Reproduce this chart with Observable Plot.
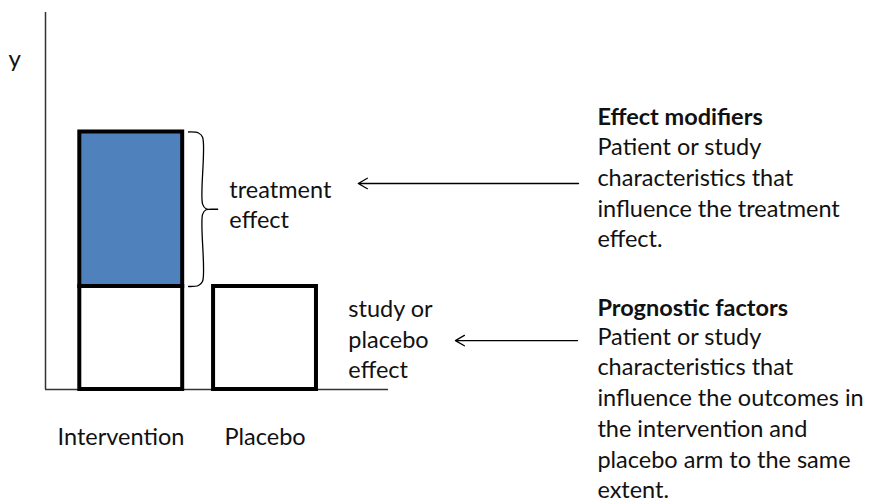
<!DOCTYPE html>
<html>
<head>
<meta charset="utf-8">
<script src="https://cdn.jsdelivr.net/npm/d3@7"></script>
<script src="https://cdn.jsdelivr.net/npm/@observablehq/plot@0.6"></script>
<style>
  html, body { margin: 0; padding: 0; background: #fff; }
  #chart svg { display: block; }
</style>
</head>
<body>
<div id="chart"></div>
<script>
// ---- data (conceptual units) ----
const categories = ["Intervention", "Placebo"];
const placeboEffect = [2, 2];        // white (study / placebo) part
const treatmentEffect = [3, 0];      // blue part on top
const yAxisLabel = "y";
const bracketLabel = "treatment\neffect";
const studyLabel = "study or\nplacebo\neffect";
const titles = ["Effect modifiers", "Prognostic factors"];
const bodies = [
  "Patient or study\ncharacteristics that\ninfluence the treatment\neffect.",
  "Patient or study\ncharacteristics that\ninfluence the outcomes in\nthe intervention and\nplacebo arm to the same\nextent."
];

// ---- layout helpers (diagram units) ----
const barStart = 1, barWidth = 3, barStep = 3.9;
const bars = categories.map((c, i) => ({
  cat: c,
  x1: barStart + i * barStep,
  x2: barStart + i * barStep + barWidth,
  base: placeboEffect[i],
  top: placeboEffect[i] + treatmentEffect[i]
}));
const whiteParts = bars.map(b => ({x1: b.x1, x2: b.x2, y1: 0, y2: b.base}));
const blueParts = bars.filter(b => b.top > b.base).map(b => ({x1: b.x1, x2: b.x2, y1: b.base, y2: b.top}));

const yTop = 7.32, xEnd = 10;
const ib = bars[0];
const bx0 = ib.x2 + 0.17, bx1 = ib.x2 + 0.58, bxt = ib.x2 + 1.02;
const mid = (ib.base + ib.top) / 2;
const brace = [
  [bx0, ib.top], [bx1 - 0.12, ib.top - 0.02], [bx1, ib.top - 0.1],
  [bx1, mid + 0.1], [bx1 + 0.1, mid + 0.01], [bxt, mid],
  [bx1 + 0.1, mid - 0.01], [bx1, mid - 0.1],
  [bx1, ib.base + 0.1], [bx1 - 0.12, ib.base + 0.02], [bx0, ib.base]
].map(([x, y]) => ({x, y}));

const font = "Lato, 'Open Sans', sans-serif";
const ink = "#111";
const fs = 23.5;

const chart = Plot.plot({
  width: 872,
  height: 500,
  marginTop: 0, marginBottom: 0, marginLeft: 0, marginRight: 0,
  x: {type: "linear", domain: [0, 10], range: [45, 388], axis: null},
  y: {type: "linear", domain: [0, yTop], range: [389, 12], axis: null},
  style: {fontFamily: font, background: "#fff"},
  marks: [
    // axes
    Plot.ruleX([0], {y1: 0, y2: yTop, stroke: "#333", strokeWidth: 1.5}),
    Plot.ruleY([0], {x1: 0, x2: xEnd, stroke: "#333", strokeWidth: 1.5}),
    // bars
    Plot.rect(blueParts, {x1: "x1", x2: "x2", y1: "y1", y2: "y2", fill: "#4F81BD", stroke: "#000", strokeWidth: 4}),
    Plot.rect(whiteParts, {x1: "x1", x2: "x2", y1: "y1", y2: "y2", fill: "#fff", stroke: "#000", strokeWidth: 4}),
    // brace
    Plot.line(brace, {x: "x", y: "y", stroke: "#000", strokeWidth: 1.3, curve: "catmull-rom"}),
    // arrows
    Plot.arrow([{x1: 15.54, x2: 9.12, y: 4.0}], {x1: "x1", x2: "x2", y1: "y", y2: "y", stroke: "#000", strokeWidth: 1.3, headLength: 12, headAngle: 60, inset: 0}),
    Plot.arrow([{x1: 15.51, x2: 11.95, y: 0.95}], {x1: "x1", x2: "x2", y1: "y", y2: "y", stroke: "#000", strokeWidth: 1.3, headLength: 12, headAngle: 60, inset: 0}),
    // texts
    Plot.text([yAxisLabel], {x: -0.9, y: 6.42, text: d => d, fontSize: 24, fill: ink, textAnchor: "middle"}),
    Plot.text(bars, {x: d => (d.x1 + d.x2) / 2 - (d.cat === "Intervention" ? 0.3 : 0), y: -0.93, text: "cat", fontSize: fs, fill: ink, textAnchor: "middle"}),
    Plot.text([bracketLabel], {x: 5.36, y: 3.61, text: d => d, fontSize: fs, fill: ink, textAnchor: "start", lineHeight: 1.28}),
    Plot.text([studyLabel], {x: 8.83, y: 1.0, text: d => d, fontSize: fs, fill: ink, textAnchor: "start", lineHeight: 1.3}),
    Plot.text(titles, {x: 16.09, y: [5.28, 1.573], text: d => d, fontSize: fs, fontWeight: "bold", fill: ink, textAnchor: "start"}),
    Plot.text(bodies, {x: 16.09, y: [3.846, -0.43], text: d => d, fontSize: fs, fill: ink, textAnchor: "start", lineHeight: 1.31})
  ]
});
document.getElementById("chart").appendChild(chart);
</script>
</body>
</html>
